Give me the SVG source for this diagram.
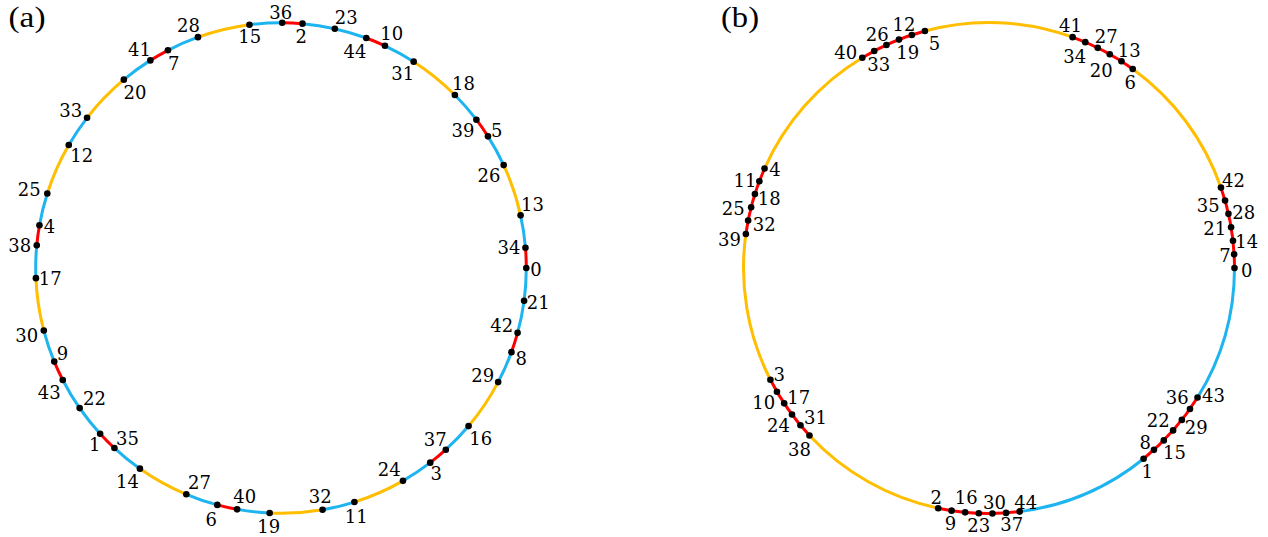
<svg xmlns="http://www.w3.org/2000/svg" width="1268" height="537" viewBox="0 0 1268 537">
<style>
.arc{fill:none;stroke-width:3}
.b{stroke:#1eb4f0}
.r{stroke:#ff0000}
.o{stroke:#ffbe00}
.dot{fill:#000}
.lbl{font-family:"DejaVu Serif",serif;font-size:18px;text-anchor:middle;fill:#000}
.ttl{font-family:"Liberation Serif",serif;font-size:29px;fill:#000}
</style>
<rect width="1268" height="537" fill="#fff"/>
<text class="ttl" x="8.5" y="26.5" textLength="37" lengthAdjust="spacingAndGlyphs">(a)</text>
<text class="ttl" x="721" y="26.5" textLength="38" lengthAdjust="spacingAndGlyphs">(b)</text>
<g id="connectors">
<path class="arc b" d="M526.30,268.00A245.3,245.3 0 0 1 517.58,332.84M511.42,352.15A245.3,245.3 0 0 1 498.14,382.12M468.57,426.08A245.3,245.3 0 0 1 445.81,449.68M430.25,462.67A245.3,245.3 0 0 1 402.96,480.83M354.42,502.06A245.3,245.3 0 0 1 322.55,509.76M269.67,513.04A245.3,245.3 0 0 1 237.09,509.34M217.32,504.89A245.3,245.3 0 0 1 186.30,494.28M139.92,468.67A245.3,245.3 0 0 1 114.42,448.07M100.12,433.70A245.3,245.3 0 0 1 62.76,380.00M54.26,361.59A245.3,245.3 0 0 1 43.80,330.52M35.91,278.14A245.3,245.3 0 0 1 36.75,245.36M39.45,225.27A245.3,245.3 0 0 1 47.30,193.44M68.76,145.00A245.3,245.3 0 0 1 87.06,117.80M123.83,79.66A245.3,245.3 0 0 1 150.35,60.39M167.94,50.31A245.3,245.3 0 0 1 197.97,37.17M249.47,24.73A245.3,245.3 0 0 1 282.20,22.70M302.45,23.64A245.3,245.3 0 0 1 366.27,38.00M384.97,45.82A245.3,245.3 0 0 1 413.67,61.67M454.88,94.97A245.3,245.3 0 0 1 476.40,119.70M487.97,136.34A245.3,245.3 0 0 1 503.68,165.12M520.58,215.33A245.3,245.3 0 0 1 525.46,247.75"/>
<path class="arc r" d="M517.58,332.84A245.3,245.3 0 0 1 511.42,352.15M445.81,449.68A245.3,245.3 0 0 1 430.25,462.67M237.09,509.34A245.3,245.3 0 0 1 217.32,504.89M114.42,448.07A245.3,245.3 0 0 1 100.12,433.70M62.76,380.00A245.3,245.3 0 0 1 54.26,361.59M36.75,245.36A245.3,245.3 0 0 1 39.45,225.27M150.35,60.39A245.3,245.3 0 0 1 167.94,50.31M282.20,22.70A245.3,245.3 0 0 1 302.45,23.64M366.27,38.00A245.3,245.3 0 0 1 384.97,45.82M476.40,119.70A245.3,245.3 0 0 1 487.97,136.34M525.46,247.75A245.3,245.3 0 0 1 526.30,268.00"/>
<path class="arc o" d="M498.14,382.12A245.3,245.3 0 0 1 468.57,426.08M402.96,480.83A245.3,245.3 0 0 1 354.42,502.06M322.55,509.76A245.3,245.3 0 0 1 269.67,513.04M186.30,494.28A245.3,245.3 0 0 1 139.92,468.67M43.80,330.52A245.3,245.3 0 0 1 35.91,278.14M47.30,193.44A245.3,245.3 0 0 1 68.76,145.00M87.06,117.80A245.3,245.3 0 0 1 123.83,79.66M197.97,37.17A245.3,245.3 0 0 1 249.47,24.73M413.67,61.67A245.3,245.3 0 0 1 454.88,94.97M503.68,165.12A245.3,245.3 0 0 1 520.58,215.33"/>
<path class="arc b" d="M1234.50,268.00A245.5,245.5 0 0 1 1197.53,397.57M1143.59,458.72A245.5,245.5 0 0 1 1019.65,511.58"/>
<path class="arc r" d="M1197.53,397.57A245.5,245.5 0 0 1 1143.59,458.72M1019.65,511.58A245.5,245.5 0 0 1 938.18,508.18M809.49,435.47A245.5,245.5 0 0 1 770.41,379.76M745.87,234.00A245.5,245.5 0 0 1 764.54,168.57M862.31,57.71A245.5,245.5 0 0 1 924.91,31.01M1072.60,37.17A245.5,245.5 0 0 1 1132.75,68.98M1220.96,187.59A245.5,245.5 0 0 1 1234.50,268.00"/>
<path class="arc o" d="M938.18,508.18A245.5,245.5 0 0 1 809.49,435.47M770.41,379.76A245.5,245.5 0 0 1 745.87,234.00M764.54,168.57A245.5,245.5 0 0 1 862.31,57.71M924.91,31.01A245.5,245.5 0 0 1 1072.60,37.17M1132.75,68.98A245.5,245.5 0 0 1 1220.96,187.59"/>
</g>
<g id="nodes-a">
<g id="a0"><circle class="dot" cx="526.30" cy="268.00" r="3.3"/><text class="lbl" x="536" y="276.2">0</text></g>
<g id="a21"><circle class="dot" cx="524.11" cy="300.71" r="3.3"/><text class="lbl" x="538.2" y="309">21</text></g>
<g id="a42"><circle class="dot" cx="517.58" cy="332.84" r="3.3"/><text class="lbl" x="501.7" y="332">42</text></g>
<g id="a8"><circle class="dot" cx="511.42" cy="352.15" r="3.3"/><text class="lbl" x="521.3" y="364.8">8</text></g>
<g id="a29"><circle class="dot" cx="498.14" cy="382.12" r="3.3"/><text class="lbl" x="482.8" y="382.3">29</text></g>
<g id="a16"><circle class="dot" cx="468.57" cy="426.08" r="3.3"/><text class="lbl" x="480.8" y="444.8">16</text></g>
<g id="a37"><circle class="dot" cx="445.81" cy="449.68" r="3.3"/><text class="lbl" x="435.2" y="446.2">37</text></g>
<g id="a3"><circle class="dot" cx="430.25" cy="462.67" r="3.3"/><text class="lbl" x="436.3" y="479.7">3</text></g>
<g id="a24"><circle class="dot" cx="402.96" cy="480.83" r="3.3"/><text class="lbl" x="389.2" y="476.2">24</text></g>
<g id="a11"><circle class="dot" cx="354.42" cy="502.06" r="3.3"/><text class="lbl" x="356.3" y="522.7">11</text></g>
<g id="a32"><circle class="dot" cx="322.55" cy="509.76" r="3.3"/><text class="lbl" x="320.2" y="503.2">32</text></g>
<g id="a19"><circle class="dot" cx="269.67" cy="513.04" r="3.3"/><text class="lbl" x="268.7" y="532.8">19</text></g>
<g id="a40"><circle class="dot" cx="237.09" cy="509.34" r="3.3"/><text class="lbl" x="244.7" y="503.3">40</text></g>
<g id="a6"><circle class="dot" cx="217.32" cy="504.89" r="3.3"/><text class="lbl" x="211.2" y="525.8">6</text></g>
<g id="a27"><circle class="dot" cx="186.30" cy="494.28" r="3.3"/><text class="lbl" x="199.5" y="488.7">27</text></g>
<g id="a14"><circle class="dot" cx="139.92" cy="468.67" r="3.3"/><text class="lbl" x="127.5" y="487.5">14</text></g>
<g id="a35"><circle class="dot" cx="114.42" cy="448.07" r="3.3"/><text class="lbl" x="127.5" y="444.8">35</text></g>
<g id="a1"><circle class="dot" cx="100.12" cy="433.70" r="3.3"/><text class="lbl" x="94.7" y="451.2">1</text></g>
<g id="a22"><circle class="dot" cx="79.64" cy="408.10" r="3.3"/><text class="lbl" x="94.5" y="404.7">22</text></g>
<g id="a43"><circle class="dot" cx="62.76" cy="380.00" r="3.3"/><text class="lbl" x="49.2" y="398.8">43</text></g>
<g id="a9"><circle class="dot" cx="54.26" cy="361.59" r="3.3"/><text class="lbl" x="62.5" y="359.5">9</text></g>
<g id="a30"><circle class="dot" cx="43.80" cy="330.52" r="3.3"/><text class="lbl" x="26.7" y="341.5">30</text></g>
<g id="a17"><circle class="dot" cx="35.91" cy="278.14" r="3.3"/><text class="lbl" x="50.2" y="285.2">17</text></g>
<g id="a38"><circle class="dot" cx="36.75" cy="245.36" r="3.3"/><text class="lbl" x="19.8" y="252.2">38</text></g>
<g id="a4"><circle class="dot" cx="39.45" cy="225.27" r="3.3"/><text class="lbl" x="49.5" y="232.5">4</text></g>
<g id="a25"><circle class="dot" cx="47.30" cy="193.44" r="3.3"/><text class="lbl" x="29.2" y="195.8">25</text></g>
<g id="a12"><circle class="dot" cx="68.76" cy="145.00" r="3.3"/><text class="lbl" x="81.7" y="162.2">12</text></g>
<g id="a33"><circle class="dot" cx="87.06" cy="117.80" r="3.3"/><text class="lbl" x="70.8" y="117.2">33</text></g>
<g id="a20"><circle class="dot" cx="123.83" cy="79.66" r="3.3"/><text class="lbl" x="135" y="98.5">20</text></g>
<g id="a41"><circle class="dot" cx="150.35" cy="60.39" r="3.3"/><text class="lbl" x="139.5" y="56">41</text></g>
<g id="a7"><circle class="dot" cx="167.94" cy="50.31" r="3.3"/><text class="lbl" x="173.7" y="69.8">7</text></g>
<g id="a28"><circle class="dot" cx="197.97" cy="37.17" r="3.3"/><text class="lbl" x="188.5" y="31.8">28</text></g>
<g id="a15"><circle class="dot" cx="249.47" cy="24.73" r="3.3"/><text class="lbl" x="249.7" y="42.8">15</text></g>
<g id="a36"><circle class="dot" cx="282.20" cy="22.70" r="3.3"/><text class="lbl" x="280.8" y="18.7">36</text></g>
<g id="a2"><circle class="dot" cx="302.45" cy="23.64" r="3.3"/><text class="lbl" x="301.3" y="42.5">2</text></g>
<g id="a23"><circle class="dot" cx="334.84" cy="28.68" r="3.3"/><text class="lbl" x="346.3" y="23.5">23</text></g>
<g id="a44"><circle class="dot" cx="366.27" cy="38.00" r="3.3"/><text class="lbl" x="355" y="57.8">44</text></g>
<g id="a10"><circle class="dot" cx="384.97" cy="45.82" r="3.3"/><text class="lbl" x="391.8" y="40.2">10</text></g>
<g id="a31"><circle class="dot" cx="413.67" cy="61.67" r="3.3"/><text class="lbl" x="402.8" y="79.7">31</text></g>
<g id="a18"><circle class="dot" cx="454.88" cy="94.97" r="3.3"/><text class="lbl" x="463.5" y="89.5">18</text></g>
<g id="a39"><circle class="dot" cx="476.40" cy="119.70" r="3.3"/><text class="lbl" x="463" y="136.8">39</text></g>
<g id="a5"><circle class="dot" cx="487.97" cy="136.34" r="3.3"/><text class="lbl" x="496.8" y="136.5">5</text></g>
<g id="a26"><circle class="dot" cx="503.68" cy="165.12" r="3.3"/><text class="lbl" x="489" y="181.8">26</text></g>
<g id="a13"><circle class="dot" cx="520.58" cy="215.33" r="3.3"/><text class="lbl" x="532.5" y="210.5">13</text></g>
<g id="a34"><circle class="dot" cx="525.46" cy="247.75" r="3.3"/><text class="lbl" x="509" y="254">34</text></g>
</g>
<g id="nodes-b">
<g id="b0"><circle class="dot" cx="1234.50" cy="268.00" r="3.3"/><text class="lbl" x="1246.7" y="277.2">0</text></g>
<g id="b7"><circle class="dot" cx="1234.12" cy="254.35" r="3.3"/><text class="lbl" x="1225" y="262">7</text></g>
<g id="b14"><circle class="dot" cx="1232.98" cy="240.75" r="3.3"/><text class="lbl" x="1246.7" y="248.2">14</text></g>
<g id="b21"><circle class="dot" cx="1231.09" cy="227.23" r="3.3"/><text class="lbl" x="1214.8" y="235.2">21</text></g>
<g id="b28"><circle class="dot" cx="1228.45" cy="213.83" r="3.3"/><text class="lbl" x="1243.7" y="218.5">28</text></g>
<g id="b35"><circle class="dot" cx="1225.07" cy="200.61" r="3.3"/><text class="lbl" x="1208.3" y="211.5">35</text></g>
<g id="b42"><circle class="dot" cx="1220.96" cy="187.59" r="3.3"/><text class="lbl" x="1233.5" y="186.5">42</text></g>
<g id="b43"><circle class="dot" cx="1197.53" cy="397.57" r="3.3"/><text class="lbl" x="1213.5" y="402">43</text></g>
<g id="b36"><circle class="dot" cx="1190.00" cy="408.96" r="3.3"/><text class="lbl" x="1177.2" y="403.7">36</text></g>
<g id="b29"><circle class="dot" cx="1181.86" cy="419.91" r="3.3"/><text class="lbl" x="1196.2" y="433.7">29</text></g>
<g id="b22"><circle class="dot" cx="1173.11" cy="430.40" r="3.3"/><text class="lbl" x="1158.3" y="426.8">22</text></g>
<g id="b15"><circle class="dot" cx="1163.80" cy="440.38" r="3.3"/><text class="lbl" x="1174.5" y="459.3">15</text></g>
<g id="b8"><circle class="dot" cx="1153.95" cy="449.83" r="3.3"/><text class="lbl" x="1145.3" y="448.8">8</text></g>
<g id="b1"><circle class="dot" cx="1143.59" cy="458.72" r="3.3"/><text class="lbl" x="1147.2" y="478">1</text></g>
<g id="b44"><circle class="dot" cx="1019.65" cy="511.58" r="3.3"/><text class="lbl" x="1025.8" y="508.8">44</text></g>
<g id="b37"><circle class="dot" cx="1006.07" cy="512.91" r="3.3"/><text class="lbl" x="1011.7" y="531">37</text></g>
<g id="b30"><circle class="dot" cx="992.42" cy="513.48" r="3.3"/><text class="lbl" x="994.5" y="508.7">30</text></g>
<g id="b23"><circle class="dot" cx="978.78" cy="513.29" r="3.3"/><text class="lbl" x="978.8" y="532.3">23</text></g>
<g id="b16"><circle class="dot" cx="965.15" cy="512.34" r="3.3"/><text class="lbl" x="966.2" y="503.5">16</text></g>
<g id="b9"><circle class="dot" cx="951.61" cy="510.64" r="3.3"/><text class="lbl" x="950.5" y="529.8">9</text></g>
<g id="b2"><circle class="dot" cx="938.18" cy="508.18" r="3.3"/><text class="lbl" x="936.3" y="503.5">2</text></g>
<g id="b38"><circle class="dot" cx="809.49" cy="435.47" r="3.3"/><text class="lbl" x="799.5" y="455.8">38</text></g>
<g id="b31"><circle class="dot" cx="800.46" cy="425.23" r="3.3"/><text class="lbl" x="815.5" y="424">31</text></g>
<g id="b24"><circle class="dot" cx="792.01" cy="414.51" r="3.3"/><text class="lbl" x="778.5" y="431.5">24</text></g>
<g id="b17"><circle class="dot" cx="784.17" cy="403.33" r="3.3"/><text class="lbl" x="798.8" y="403.8">17</text></g>
<g id="b10"><circle class="dot" cx="776.96" cy="391.74" r="3.3"/><text class="lbl" x="763.8" y="408.5">10</text></g>
<g id="b3"><circle class="dot" cx="770.41" cy="379.76" r="3.3"/><text class="lbl" x="779.3" y="380.8">3</text></g>
<g id="b39"><circle class="dot" cx="745.87" cy="234.00" r="3.3"/><text class="lbl" x="729.5" y="246">39</text></g>
<g id="b32"><circle class="dot" cx="748.13" cy="220.54" r="3.3"/><text class="lbl" x="764.2" y="231">32</text></g>
<g id="b25"><circle class="dot" cx="751.14" cy="207.22" r="3.3"/><text class="lbl" x="733.3" y="214.8">25</text></g>
<g id="b18"><circle class="dot" cx="754.89" cy="194.09" r="3.3"/><text class="lbl" x="769.3" y="205.2">18</text></g>
<g id="b11"><circle class="dot" cx="759.36" cy="181.19" r="3.3"/><text class="lbl" x="745" y="187.3">11</text></g>
<g id="b4"><circle class="dot" cx="764.54" cy="168.57" r="3.3"/><text class="lbl" x="775" y="175.5">4</text></g>
<g id="b40"><circle class="dot" cx="862.31" cy="57.71" r="3.3"/><text class="lbl" x="845.8" y="59">40</text></g>
<g id="b33"><circle class="dot" cx="874.20" cy="50.99" r="3.3"/><text class="lbl" x="878.7" y="71">33</text></g>
<g id="b26"><circle class="dot" cx="886.44" cy="44.95" r="3.3"/><text class="lbl" x="877.3" y="41.2">26</text></g>
<g id="b19"><circle class="dot" cx="899.00" cy="39.59" r="3.3"/><text class="lbl" x="907.8" y="58.7">19</text></g>
<g id="b12"><circle class="dot" cx="911.83" cy="34.94" r="3.3"/><text class="lbl" x="904" y="30.7">12</text></g>
<g id="b5"><circle class="dot" cx="924.91" cy="31.01" r="3.3"/><text class="lbl" x="934.5" y="49.5">5</text></g>
<g id="b41"><circle class="dot" cx="1072.60" cy="37.17" r="3.3"/><text class="lbl" x="1070.5" y="32">41</text></g>
<g id="b34"><circle class="dot" cx="1085.29" cy="42.17" r="3.3"/><text class="lbl" x="1074.7" y="63.2">34</text></g>
<g id="b27"><circle class="dot" cx="1097.70" cy="47.87" r="3.3"/><text class="lbl" x="1106.2" y="43.2">27</text></g>
<g id="b20"><circle class="dot" cx="1109.77" cy="54.26" r="3.3"/><text class="lbl" x="1101.3" y="76.8">20</text></g>
<g id="b13"><circle class="dot" cx="1121.47" cy="61.30" r="3.3"/><text class="lbl" x="1129.2" y="56.8">13</text></g>
<g id="b6"><circle class="dot" cx="1132.75" cy="68.98" r="3.3"/><text class="lbl" x="1130.3" y="88.7">6</text></g>
</g>
</svg>
